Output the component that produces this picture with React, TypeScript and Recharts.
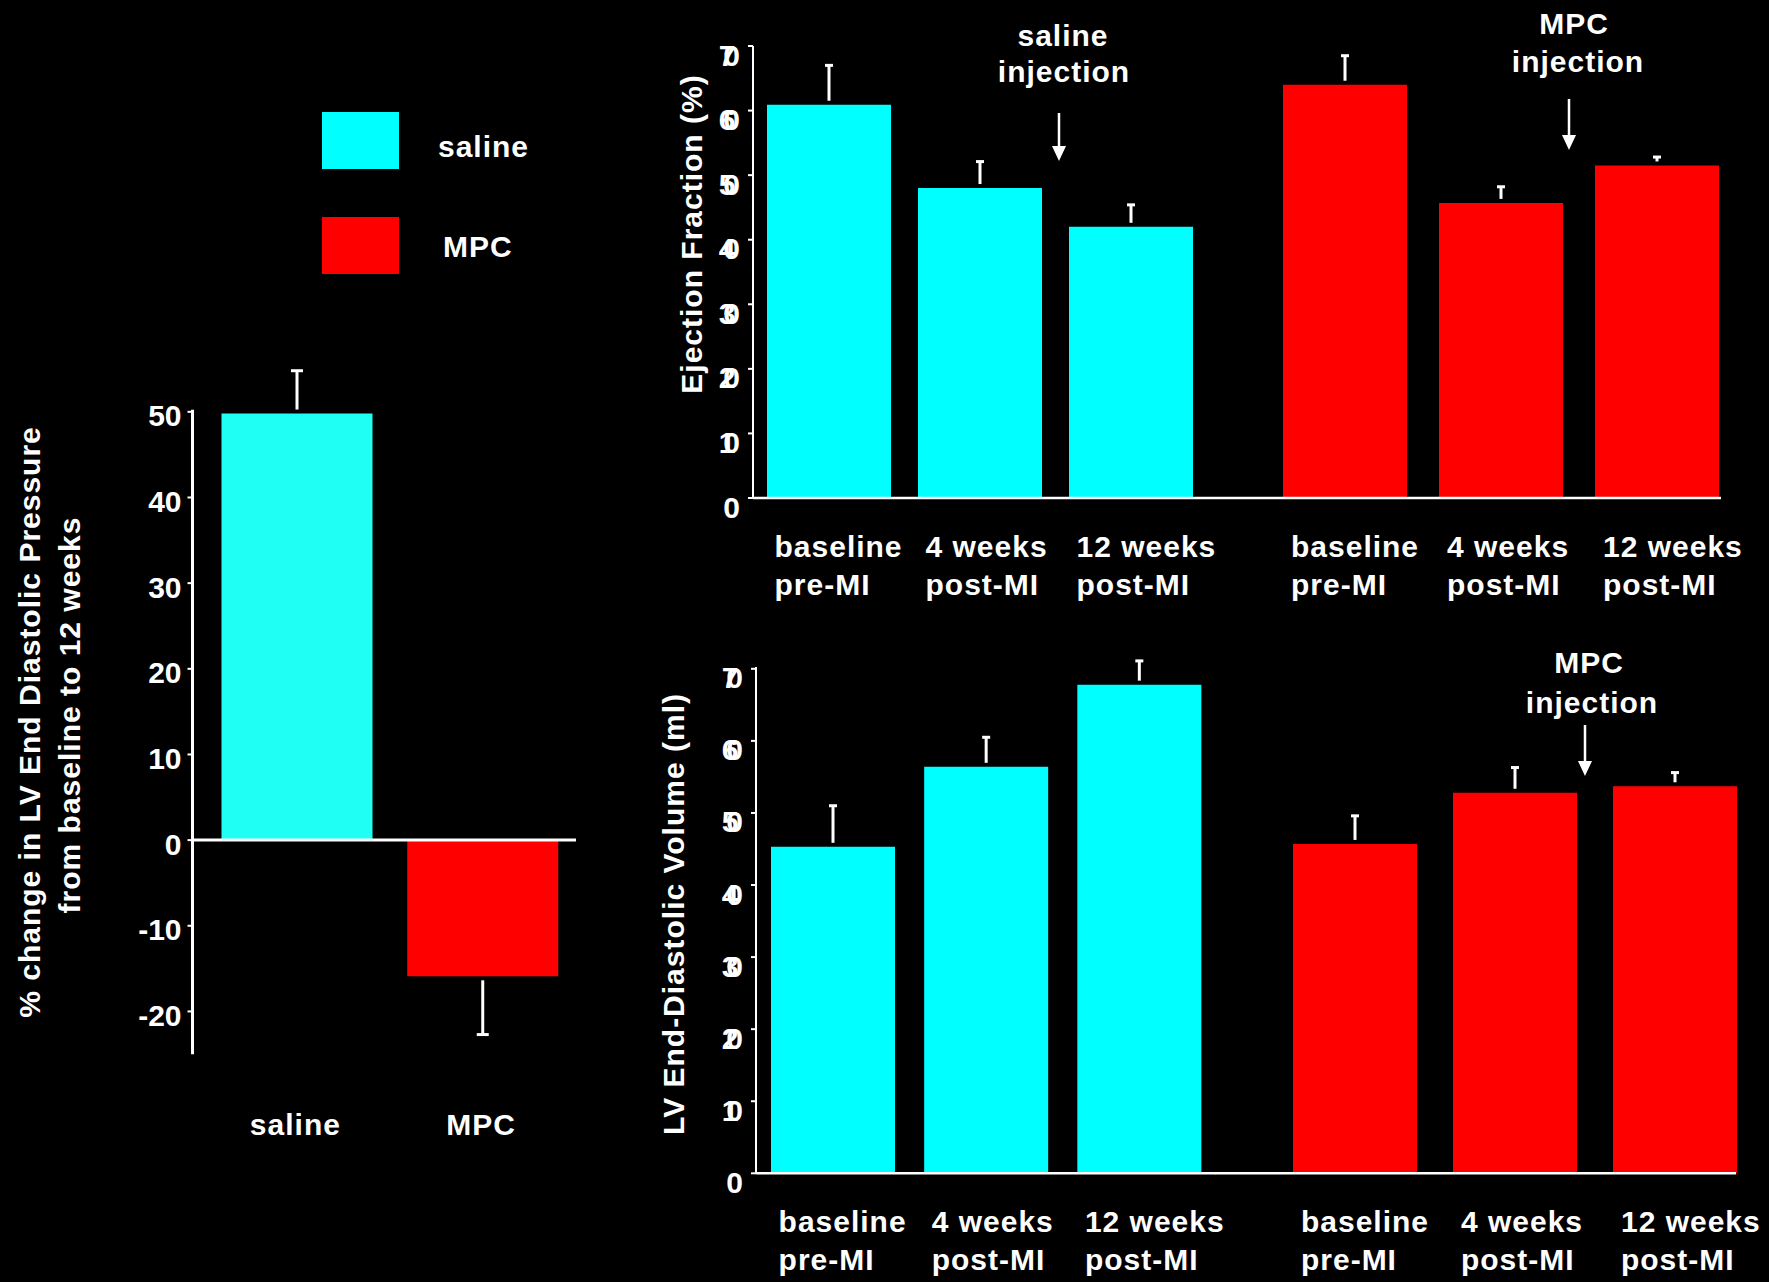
import React from "react";
import { Bar, BarChart, Cell, ReferenceLine, XAxis, YAxis } from "recharts";

const FONT = '"Liberation Sans", Arial, sans-serif';
const WHITE = "#FFFFFF";
const CYAN = "#00FFFF";
const CYAN_LEFT = "#1FFFF4";
const RED = "#FF0000";

// left panel: % change in LV end diastolic pressure
const edpGroups = ["saline", "MPC"];
const edpChange = [49.8, -15.9];
const edpError = [5.0, -6.8];
const edpTicks = [-20, -10, 0, 10, 20, 30, 40, 50];

// time points (two-line tick labels)
const timeLine1 = ["baseline", "4 weeks", "12 weeks"];
const timeLine2 = ["pre-MI", "post-MI", "post-MI"];
const panelTicks = [0, 10, 20, 30, 40, 50, 60, 70];

// ejection fraction (%)
const efSaline = [60.9, 48.0, 42.0];
const efSalineErr = [6.1, 4.1, 3.4];
const efMpc = [64.0, 45.7, 51.5];
const efMpcErr = [4.5, 2.5, 1.3];

// LV end-diastolic volume (ml)
const edvSaline = [45.3, 56.4, 67.8];
const edvSalineErr = [5.7, 4.1, 3.3];
const edvMpc = [45.7, 52.8, 53.7];
const edvMpcErr = [3.9, 3.5, 1.9];

const textStyle: React.CSSProperties = {
  fontFamily: FONT,
  fontWeight: 700,
  fontSize: 30,
  letterSpacing: 1,
};

type Row = { name: string; value: number; err: number };

const rowsOf = (vals: number[], errs: number[]): Row[] =>
  vals.map((v, i) => ({ name: timeLine1[i], value: v, err: errs[i] }));

// one-sided error bar drawn on the stacked "err" segment
function ErrorShape(props: any) {
  const { x, y, width, height, payload, cap = 8 } = props;
  const cx = x + width / 2;
  const top = Math.min(y, y + height);
  const bottom = Math.max(y, y + height);
  const down = payload.value < 0;
  const gap = 4;
  const start = down ? top + gap : bottom - gap;
  const end = down ? bottom : top;
  return (
    <g>
      <line x1={cx} x2={cx} y1={start} y2={end} stroke={WHITE} strokeWidth={3} />
      <line x1={cx - cap / 2} x2={cx + cap / 2} y1={end} y2={end} stroke={WHITE} strokeWidth={3} />
    </g>
  );
}

function PanelXTick(props: any) {
  const { x, y, index } = props;
  return (
    <g>
      <text x={x - 54} y={y + 59} fill={WHITE} textAnchor="start" style={textStyle}>
        {timeLine1[index]}
      </text>
      <text x={x - 54} y={y + 97} fill={WHITE} textAnchor="start" style={textStyle}>
        {timeLine2[index]}
      </text>
    </g>
  );
}

function PanelYTick(props: any) {
  const { x, y, payload } = props;
  return (
    <text
      x={x - 18}
      y={y + 9}
      fill={WHITE}
      textAnchor="end"
      dominantBaseline="central"
      style={{ ...textStyle, letterSpacing: -12 }}
    >
      {payload.value}
    </text>
  );
}

function LeftXTick(props: any) {
  const { x, y, payload } = props;
  return (
    <text x={x - 2} y={y + 81} fill={WHITE} textAnchor="middle" style={textStyle}>
      {payload.value}
    </text>
  );
}

function LeftYTick(props: any) {
  const { x, y, payload } = props;
  return (
    <text
      x={x - 4}
      y={y + 4}
      fill={WHITE}
      textAnchor="end"
      dominantBaseline="central"
      style={{ ...textStyle, letterSpacing: 0 }}
    >
      {payload.value}
    </text>
  );
}

type GroupProps = {
  rows: Row[];
  color: string;
  withAxis: boolean;
  plotLeft: number;
  plotRight: number;
  plotTop: number;
  plotBottom: number;
  domainMax: number;
  axisGap?: number;
  padLeft: number;
  padRight: number;
};

function GroupChart(p: GroupProps) {
  const yw = p.withAxis ? 110 : 0;
  const mt = 20;
  const mr = 24;
  const xh = 110;
  const plotW = p.plotRight - p.plotLeft;
  const plotH = p.plotBottom - p.plotTop;
  const gap = p.axisGap ?? 0;
  return (
    <div style={{ position: "absolute", left: p.plotLeft - yw, top: p.plotTop - mt }}>
      <BarChart
        width={yw + plotW + mr}
        height={mt + plotH + xh}
        data={p.rows}
        margin={{ top: mt, right: mr, left: 0, bottom: 0 }}
        barSize={124}
      >
        <XAxis
          dataKey="name"
          interval={0}
          tickLine={false}
          tickSize={0}
          tickMargin={0}
          height={xh}
          axisLine={{ stroke: WHITE, strokeWidth: 2.5 }}
          padding={{ left: p.padLeft, right: p.padRight }}
          tick={(t: any) => <PanelXTick {...t} />}
        />
        <YAxis
          hide={!p.withAxis}
          width={yw}
          domain={[0, p.domainMax]}
          ticks={panelTicks}
          interval={0}
          axisLine={{
            stroke: WHITE,
            strokeWidth: 2,
            strokeDasharray: gap > 0 ? `0 ${gap} ${plotH} 3000` : undefined,
          }}
          tickLine={{ stroke: WHITE, strokeWidth: 2 }}
          tickSize={5}
          tick={(t: any) => <PanelYTick {...t} />}
        />
        <Bar dataKey="value" stackId="s" fill={p.color} isAnimationActive={false} />
        <Bar
          dataKey="err"
          stackId="s"
          isAnimationActive={false}
          shape={(s: any) => <ErrorShape {...s} cap={8} />}
        />
      </BarChart>
    </div>
  );
}

function Arrow({ x, y1, y2 }: { x: number; y1: number; y2: number }) {
  return (
    <g>
      <line x1={x} x2={x} y1={y1} y2={y2 - 12} stroke={WHITE} strokeWidth={2.5} />
      <polygon points={`${x - 7},${y2 - 15} ${x + 7},${y2 - 15} ${x},${y2}`} fill={WHITE} />
    </g>
  );
}

function RotLabel({ x, y, text }: { x: number; y: number; text: string }) {
  return (
    <text
      x={x}
      y={y}
      transform={`rotate(-90 ${x} ${y})`}
      textAnchor="middle"
      dominantBaseline="central"
      fill={WHITE}
      style={textStyle}
    >
      {text}
    </text>
  );
}

// left chart geometry: 50 sits at y=411.7, 8.566 px per unit
const LEFT_UNIT = 8.566;
const LEFT_PLOT_TOP = 411.7 - 5 * LEFT_UNIT;
const LEFT_PLOT_H = 80 * LEFT_UNIT;

export default function App() {
  const edpRows = edpGroups.map((g, i) => ({ name: g, value: edpChange[i], err: edpError[i] }));

  return (
    <div
      style={{
        position: "absolute",
        left: 0,
        top: 0,
        width: 1769,
        height: 1282,
        background: "#000",
        overflow: "hidden",
        fontFamily: FONT,
      }}
    >
      {/* left: % change in LVEDP */}
      <div style={{ position: "absolute", left: 0, top: LEFT_PLOT_TOP - 20 }}>
        <BarChart
          width={600}
          height={20 + LEFT_PLOT_H + 110}
          data={edpRows}
          margin={{ top: 20, right: 24, left: 0, bottom: 0 }}
          barSize={151}
        >
          <XAxis
            dataKey="name"
            interval={0}
            axisLine={false}
            tickLine={false}
            tickSize={0}
            tickMargin={0}
            height={110}
            padding={{ left: 12, right: 0 }}
            tick={(t: any) => <LeftXTick {...t} />}
          />
          <YAxis
            width={192.5}
            domain={[-25, 55]}
            ticks={edpTicks}
            interval={0}
            axisLine={{
              stroke: WHITE,
              strokeWidth: 3,
              strokeDasharray: `0 ${5 * LEFT_UNIT - 2} ${LEFT_PLOT_H} 3000`,
            }}
            tickLine={{ stroke: WHITE, strokeWidth: 2 }}
            tickSize={5}
            tick={(t: any) => <LeftYTick {...t} />}
          />
          <ReferenceLine y={0} stroke={WHITE} strokeWidth={3} />
          <Bar dataKey="value" stackId="s" isAnimationActive={false}>
            {edpRows.map((r, i) => (
              <Cell key={r.name} fill={i === 0 ? CYAN_LEFT : RED} />
            ))}
          </Bar>
          <Bar
            dataKey="err"
            stackId="s"
            isAnimationActive={false}
            shape={(s: any) => <ErrorShape {...s} cap={12} />}
          />
        </BarChart>
      </div>

      {/* top right: ejection fraction */}
      <GroupChart
        rows={rowsOf(efSaline, efSalineErr)}
        color={CYAN}
        withAxis
        plotLeft={753}
        plotRight={1206}
        plotTop={46}
        plotBottom={498}
        domainMax={70}
        padLeft={0}
        padRight={0}
      />
      <GroupChart
        rows={rowsOf(efMpc, efMpcErr)}
        color={RED}
        withAxis={false}
        plotLeft={1206}
        plotRight={1721}
        plotTop={46}
        plotBottom={498}
        domainMax={70}
        padLeft={61}
        padRight={-14}
      />

      {/* bottom right: LV end-diastolic volume */}
      <GroupChart
        rows={rowsOf(edvSaline, edvSalineErr)}
        color={CYAN}
        withAxis
        plotLeft={755.5}
        plotRight={1215}
        plotTop={658.2}
        plotBottom={1173.5}
        domainMax={71.5}
        axisGap={9}
        padLeft={0}
        padRight={0}
      />
      <GroupChart
        rows={rowsOf(edvMpc, edvMpcErr)}
        color={RED}
        withAxis={false}
        plotLeft={1215}
        plotRight={1736}
        plotTop={658.2}
        plotBottom={1173.5}
        domainMax={71.5}
        padLeft={60}
        padRight={-19}
      />

      {/* labels, legend and annotations */}
      <svg
        width={1769}
        height={1282}
        style={{ position: "absolute", left: 0, top: 0, pointerEvents: "none" }}
      >
        <RotLabel x={29} y={722} text="% change in LV End Diastolic Pressure" />
        <RotLabel x={69} y={715} text="from baseline to 12 weeks" />
        <RotLabel x={691} y={234} text="Ejection Fraction (%)" />
        <RotLabel x={673} y={914} text="LV End-Diastolic Volume (ml)" />

        <rect x={322} y={112} width={77} height={57} fill={CYAN} />
        <rect x={322} y={217} width={77} height={57} fill={RED} />
        <text x={438} y={157} fill={WHITE} style={textStyle}>saline</text>
        <text x={443} y={257} fill={WHITE} style={textStyle}>MPC</text>

        <text x={1063} y={46} fill={WHITE} textAnchor="middle" style={textStyle}>saline</text>
        <text x={1064} y={82} fill={WHITE} textAnchor="middle" style={textStyle}>injection</text>
        <Arrow x={1059} y1={113} y2={161} />

        <text x={1574} y={34} fill={WHITE} textAnchor="middle" style={textStyle}>MPC</text>
        <text x={1578} y={72} fill={WHITE} textAnchor="middle" style={textStyle}>injection</text>
        <Arrow x={1569} y1={99} y2={150} />

        <text x={1589} y={673} fill={WHITE} textAnchor="middle" style={textStyle}>MPC</text>
        <text x={1592} y={713} fill={WHITE} textAnchor="middle" style={textStyle}>injection</text>
        <Arrow x={1585} y1={725} y2={776} />
      </svg>
    </div>
  );
}
